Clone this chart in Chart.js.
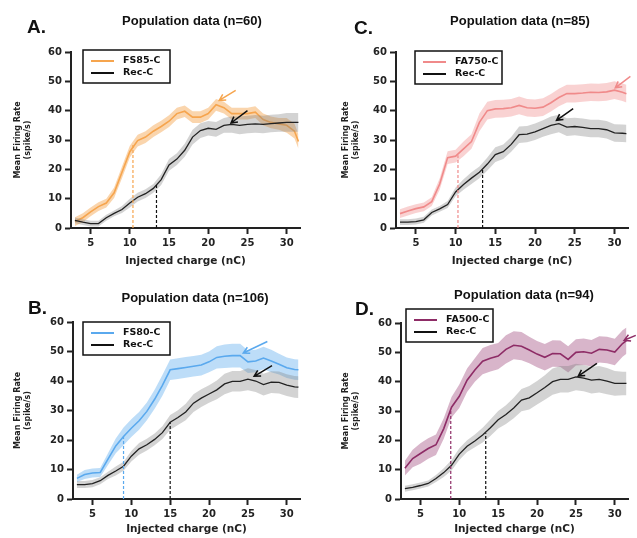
<!DOCTYPE html>
<html>
<head>
<meta charset="utf-8">
<script src="https://cdn.jsdelivr.net/npm/chart.js@4.4.1/dist/chart.umd.min.js"></script>
<style>
  body { margin: 0; background: #fff; font-family: "Liberation Sans", Arial, sans-serif; }
  #page { position: relative; width: 637px; height: 538px; overflow: hidden; }
  canvas { position: absolute; }
  .letter { position: absolute; font-weight: bold; font-size: 19px; color: #111; line-height: 1; transform: translateY(-50%); }
  .title { position: absolute; font-weight: bold; font-size: 13px; color: #111; white-space: nowrap; transform: translate(-50%, -50%); }
</style>
</head>
<body>
<div id="page"></div>
<script>
// injected charge (nC), same steps for every panel
let charge = [3,4,5,6,7,8,9,10,11,12,13,14,15,16,17,18,19,20,21,22,23,24,25,26,27,28,29,30,31,31.5];
let xTicks = [5,10,15,20,25,30];
let yTicks = [0,10,20,30,40,50,60];

// A. FS85-C vs Rec-C (n=60)
let fs85 = [2.2,3.5,5.5,7.3,8.5,12,19,26,29.8,31,33,34.6,36.4,39,39.8,37.8,37.8,39,42,41,39,39,39,39.5,37,36,35.5,35,33,29.5];
let fs85Sem = [1.5,1.5,1.5,1.5,1.5,1.8,2,2,2,2,2,2,2,2,2,2,2,2,2,2,2,2,2,2,2,2,2,2.5,2.5,2.5];
let recA = [2.6,2,1.5,1.5,3.5,5,6.3,8.5,10.5,11.7,13.5,16.5,21.5,23.5,26.5,31,33.2,34,33.6,35,35.3,35,35.3,35.5,35.3,35.6,35.8,36,36,36];
let recASem = [1,1,1,1,1,1,1.2,1.5,1.5,1.5,1.5,1.8,2,2,2.2,2.5,2.5,2.5,2.5,2.5,2.8,3,3,3,3,3,3,3.2,3.2,3.2];

// B. FS80-C vs Rec-C (n=106)
let fs80 = [7,8.3,8.8,9,13.5,18,21.2,24,26.5,29.7,33.8,38.5,43.8,44.2,44.6,45,45.4,46.5,48,48.4,48.6,48.6,46.5,46.8,47.8,46.8,45.7,44.5,43.9,43.8];
let fs80Sem = [1.2,1.5,1.5,1.5,2,2.5,3,3,3,3,3.2,3.5,3.5,3.5,3.5,3.5,3.5,3.5,3.8,4,4,4,3.8,3.8,3.8,3.8,3.5,3.5,3.5,3.5];
let recB = [4.9,4.9,5.2,6.2,8,9.5,11.1,14.5,17,18.4,20.2,22.5,26,27.6,29.5,32.5,34.2,35.6,37,39,39.9,39.9,40.6,40,38.8,39.6,39.5,38.6,38,37.9];
let recBSem = [1.2,1.2,1.2,1.2,1.2,1.5,1.5,1.8,2,2,2,2.2,2.5,2.5,2.8,3,3,3,3.2,3.5,3.5,3.5,3.7,3.7,3.7,3.7,3.7,3.7,3.7,3.7];

// C. FA750-C vs Rec-C (n=85)
let fa750 = [4.9,5.8,6.6,7.2,9,15,24,24.5,27,29.5,36,40,40.6,40.7,41,41.8,41,40.8,41.2,42.7,44.5,45.8,45.8,46,46.3,46.2,46.4,47,46.3,45.8];
let fa750Sem = [1.5,1.5,1.5,1.5,1.5,2,2.2,2.2,2.5,2.5,3,3,3,3,3,3,3,3,3,3,3,3,3,3,3,3,3,3,3,3];
let recC = [2,2,2.2,2.8,5.3,6.5,8,12.3,14.8,17,19,21.8,25,26,28.5,31.8,32,32.8,33.9,35,35.6,34.4,34.6,34.3,33.9,33.9,33.5,32.4,32.3,32.2];
let recCSem = [1,1,1,1,1,1,1.2,1.5,1.8,2,2,2.2,2.5,2.5,2.5,2.8,2.8,2.8,2.8,3,3,3,3,3,3,3,3,3,3,3];

// D. FA500-C vs Rec-C (n=94)
let fa500 = [10.5,13.8,15.5,17.2,18.5,24,31.3,35,40.5,44,47,48,48.7,51,52.4,52.1,50.8,49.4,48.3,49.6,49.5,47.6,50,50.2,49.7,51,50.8,50.1,53,54];
let fa500Sem = [2.5,3,3.5,3.5,3.5,3.5,3.5,4,4,4,4.5,4.5,4.5,4.8,4.8,4.8,4.5,4.5,4.5,4.5,4.5,4.5,4.5,4.5,4.5,4.5,4.5,4.5,4.5,4.5];
let recD = [3.5,4,4.6,5.3,7,9,11.5,15.3,18,19.8,21.8,24.3,27,28.8,31,33.7,34.5,36.2,38,40,40.8,40.8,41.6,41.2,40.5,40.8,40.2,39.4,39.4,39.4];
let recDSem = [1,1,1,1,1.2,1.5,1.8,2,2,2.2,2.5,2.8,3,3.2,3.5,3.8,4,4,4.2,4.5,4.5,4.5,4.5,4.5,4.5,4.5,4.5,4.2,4,4];

// dashed markers [charge, rate] : test cell, then Rec-C
let markA = [[10.4, 28.8], [13.4, 15]];
let markB = [[9, 21.2], [15, 26]];
let markC = [[10.3, 24.8], [13.4, 19.9]];
let markD = [[8.9, 30], [13.4, 22.4]];

// arrows [fromCharge, fromRate, toCharge, toRate] : test cell, then Rec-C
let arrowA = [[23.5, 46.9, 21.4, 43.5], [25, 40, 22.9, 35.8]];
let arrowB = [[27.5, 53.4, 24.4, 49.5], [28.1, 45.2, 25.8, 41.6]];
let arrowC = [[32, 51.7, 30.1, 47.8], [24.8, 40.7, 22.7, 36.7]];
let arrowD = [[32.7, 55.8, 31.2, 54.1], [27.7, 46.2, 25.3, 41.9]];

let panels = [
  { id: 'A', left: 0, top: 0, w: 318, h: 270, name: 'FS85-C', n: 60, test: fs85, testSem: fs85Sem, rec: recA, recSem: recASem,
    mark: markA, arrows: arrowA, color: '#F6A54E', band: 'rgba(245,162,74,0.45)',
    area: { left: 71, top: 52, right: 300, bottom: 228 }, yTitleX: 18, legend: [12, -2],
    letterPos: [27, 26], titlePos: [192, 20] },
  { id: 'C', left: 318, top: 0, w: 319, h: 270, name: 'FA750-C', n: 85, test: fa750, testSem: fa750Sem, rec: recC, recSem: recCSem,
    mark: markC, arrows: arrowC, color: '#F08A8A', band: 'rgba(240,138,138,0.38)',
    area: { left: 78, top: 52, right: 310, bottom: 228 }, yTitleX: 28, legend: [19, -1],
    letterPos: [36, 27], titlePos: [202, 20] },
  { id: 'B', left: 0, top: 270, w: 318, h: 268, name: 'FS80-C', n: 106, test: fs80, testSem: fs80Sem, rec: recB, recSem: recBSem,
    mark: markB, arrows: arrowB, color: '#5AA9EE', band: 'rgba(90,169,238,0.4)',
    area: { left: 73, top: 52, right: 300, bottom: 229 }, yTitleX: 18, legend: [10, 0],
    letterPos: [28, 37], titlePos: [195, 27] },
  { id: 'D', left: 318, top: 270, w: 319, h: 268, name: 'FA500-C', n: 94, test: fa500, testSem: fa500Sem, rec: recD, recSem: recDSem,
    mark: markD, arrows: arrowD, color: '#8E2C66', band: 'rgba(142,44,102,0.35)',
    area: { left: 83, top: 53, right: 310, bottom: 229 }, yTitleX: 28, legend: [5, -14],
    letterPos: [37, 38], titlePos: [206, 24] }
];

const axisFont = '"DejaVu Sans", "Liberation Sans", Arial';

function points(xs, ys) {
  return xs.map((x, i) => ({ x: x, y: ys[i] }));
}

function edge(xs, mean, sem, sign) {
  return xs.map((x, i) => ({ x: x, y: mean[i] + sign * sem[i] }));
}

// legend box and arrows, drawn on top of the lines
const decor = {
  id: 'decor',
  afterDatasetsDraw(chart, args, opts) {
    const ctx = chart.ctx, xs = chart.scales.x, ys = chart.scales.y;
    ctx.save();
    opts.arrows.forEach((a, i) => {
      const x0 = xs.getPixelForValue(a[0]), y0 = ys.getPixelForValue(a[1]);
      const x1 = xs.getPixelForValue(a[2]), y1 = ys.getPixelForValue(a[3]);
      const ang = Math.atan2(y1 - y0, x1 - x0), h = 7;
      ctx.strokeStyle = i == 0 ? opts.color : '#111';
      ctx.lineWidth = 1.5;
      ctx.beginPath();
      ctx.moveTo(x0, y0);
      ctx.lineTo(x1, y1);
      ctx.moveTo(x1 - h * Math.cos(ang - 0.5), y1 - h * Math.sin(ang - 0.5));
      ctx.lineTo(x1, y1);
      ctx.lineTo(x1 - h * Math.cos(ang + 0.5), y1 - h * Math.sin(ang + 0.5));
      ctx.stroke();
    });
    ctx.restore();
  },
  afterDraw(chart, args, opts) {
    const ctx = chart.ctx, ca = chart.chartArea;
    const bx = ca.left + opts.offset[0], by = ca.top + opts.offset[1];
    ctx.save();
    ctx.fillStyle = '#fff';
    ctx.fillRect(bx, by, 87, 33);
    ctx.strokeStyle = '#111';
    ctx.lineWidth = 1.5;
    ctx.strokeRect(bx, by, 87, 33);
    const rows = [[opts.name, opts.color], ['Rec-C', '#111']];
    ctx.font = 'bold 9.5px ' + axisFont;
    ctx.textBaseline = 'middle';
    rows.forEach((r, i) => {
      const y = by + 11 + i * 12;
      ctx.strokeStyle = r[1];
      ctx.lineWidth = 2;
      ctx.beginPath();
      ctx.moveTo(bx + 8, y);
      ctx.lineTo(bx + 31, y);
      ctx.stroke();
      ctx.fillStyle = '#111';
      ctx.fillText(r[0], bx + 40, y);
    });
    ctx.restore();
  }
};

let page = document.getElementById('page');

panels.forEach(p => {
  let canvas = document.createElement('canvas');
  canvas.width = p.w;
  canvas.height = p.h;
  canvas.style.left = p.left + 'px';
  canvas.style.top = p.top + 'px';
  page.appendChild(canvas);

  let letter = document.createElement('div');
  letter.className = 'letter';
  letter.textContent = p.id + '.';
  letter.style.left = (p.left + p.letterPos[0]) + 'px';
  letter.style.top = (p.top + p.letterPos[1]) + 'px';
  page.appendChild(letter);

  let title = document.createElement('div');
  title.className = 'title';
  title.textContent = `Population data (n=${p.n})`;
  title.style.left = (p.left + p.titlePos[0]) + 'px';
  title.style.top = (p.top + p.titlePos[1]) + 'px';
  page.appendChild(title);

  let a = p.area;
  let line = { pointRadius: 0, fill: false, tension: 0 };

  new Chart(canvas, {
    type: 'line',
    data: {
      datasets: [
        { ...line, data: edge(charge, p.test, p.testSem, 1), borderWidth: 0, fill: '+1', backgroundColor: p.band, order: 6 },
        { ...line, data: edge(charge, p.test, p.testSem, -1), borderWidth: 0, order: 6 },
        { ...line, label: p.name, data: points(charge, p.test), borderColor: p.color, borderWidth: 1.6, order: 5 },
        { ...line, data: edge(charge, p.rec, p.recSem, 1), borderWidth: 0, fill: '+1', backgroundColor: 'rgba(130,130,130,0.35)', order: 4 },
        { ...line, data: edge(charge, p.rec, p.recSem, -1), borderWidth: 0, order: 4 },
        { ...line, label: 'Rec-C', data: points(charge, p.rec), borderColor: '#222', borderWidth: 1.3, order: 3 },
        { ...line, data: [{ x: p.mark[0][0], y: 0 }, { x: p.mark[0][0], y: p.mark[0][1] }], borderColor: p.color, borderWidth: 1.2, borderDash: [3, 2], order: 1 },
        { ...line, data: [{ x: p.mark[1][0], y: 0 }, { x: p.mark[1][0], y: p.mark[1][1] }], borderColor: '#111', borderWidth: 1.2, borderDash: [3, 2], order: 1 }
      ]
    },
    options: {
      responsive: false,
      animation: false,
      events: [],
      layout: { padding: { left: 0, top: a.top, right: p.w - a.right, bottom: 0 } },
      plugins: {
        legend: { display: false },
        tooltip: { enabled: false },
        decor: { arrows: p.arrows, color: p.color, name: p.name, offset: p.legend }
      },
      scales: {
        x: {
          type: 'linear', min: 2.5, max: 31.7,
          afterBuildTicks: s => { s.ticks = xTicks.map(v => ({ value: v })); },
          afterFit: s => { s.height = p.h - a.bottom; },
          grid: { drawOnChartArea: false, tickLength: 6, tickColor: '#222', tickWidth: 2 },
          border: { color: '#222', width: 2 },
          ticks: { color: '#222', font: { family: axisFont, size: 10, weight: 'bold' }, padding: 3, maxRotation: 0 },
          title: { display: true, text: 'Injected charge (nC)', color: '#222',
                   font: { family: axisFont, size: 10.5, weight: 'bold' }, padding: { top: 0, bottom: 2 } }
        },
        y: {
          min: 0, max: 60,
          afterBuildTicks: s => { s.ticks = yTicks.map(v => ({ value: v })); },
          afterFit: s => { s.width = a.left; },
          grid: { drawOnChartArea: false, tickLength: 6, tickColor: '#222', tickWidth: 2 },
          border: { color: '#222', width: 2 },
          ticks: { color: '#222', font: { family: axisFont, size: 10, weight: 'bold' }, padding: 3 },
          title: { display: true, text: ['Mean Firing Rate', '(spike/s)'], color: '#222',
                   font: { family: axisFont, size: 8, weight: 'bold', lineHeight: 1.25 }, padding: { top: p.yTitleX - 5, bottom: 0 } }
        }
      }
    },
    plugins: [decor]
  });
});
</script>
</body>
</html>
